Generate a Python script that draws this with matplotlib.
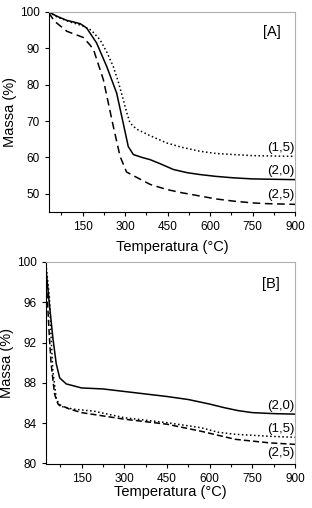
import numpy as np
import matplotlib.pyplot as plt
from matplotlib.ticker import MultipleLocator

plt.rcParams['font.family'] = ['Liberation Sans', 'DejaVu Sans']

# panel A
ta_15 = [30, 60, 100, 150, 180, 211, 235, 258, 275, 293, 305, 317, 340, 388, 446, 500, 564, 620, 682, 750, 820, 900]
ma_15 = [100, 98.6, 97.4, 96.2, 95.0, 92.4, 89.0, 85.0, 81.0, 76.0, 72.5, 69.5, 67.8, 66.0, 64.0, 62.8, 61.7, 61.1, 60.8, 60.5, 60.4, 60.3]
ta_20 = [30, 60, 94, 141, 164, 199, 235, 270, 293, 311, 329, 360, 388, 423, 470, 520, 564, 620, 682, 750, 820, 900]
ma_20 = [100, 98.8, 97.7, 96.8, 95.6, 91.5, 85.0, 77.7, 69.5, 63.0, 60.8, 60.0, 59.4, 58.3, 56.7, 55.8, 55.3, 54.8, 54.4, 54.1, 54.0, 53.9]
ta_25 = [30, 50, 94, 152, 175, 188, 223, 258, 282, 305, 329, 388, 446, 500, 564, 620, 682, 750, 800, 900]
ma_25 = [99.8, 97.5, 94.7, 93.0, 91.0, 89.7, 81.4, 68.6, 60.3, 56.0, 55.0, 52.6, 51.2, 50.3, 49.4, 48.6, 48.0, 47.5, 47.3, 47.1]

# panel B
tb_20 = [25, 37, 49, 61, 73, 96, 150, 225, 300, 375, 450, 525, 600, 650, 700, 750, 825, 900]
mb_20 = [99.3, 95.8, 92.5, 89.9, 88.5, 87.9, 87.5, 87.4, 87.15, 86.9, 86.65, 86.35, 85.9, 85.55, 85.25, 85.05, 84.95, 84.9]
tb_15 = [25, 37, 43, 49, 61, 73, 120, 192, 300, 450, 570, 630, 690, 810, 900]
mb_15 = [99.8, 96.5, 92.5, 89.2, 86.5, 85.7, 85.4, 85.2, 84.55, 84.05, 83.55, 83.1, 82.9, 82.7, 82.6]
tb_25 = [25, 37, 43, 55, 67, 108, 150, 300, 450, 570, 630, 690, 810, 900]
mb_25 = [98.8, 92.5, 89.9, 86.9, 85.9, 85.4, 85.05, 84.4, 83.9, 83.2, 82.8, 82.4, 82.05, 81.9]

fig = plt.figure(figsize=(3.12, 5.08), dpi=100)
axA = fig.add_axes([49/312, 1-212/508, 246/312, 200/508])
axB = fig.add_axes([46/312, 1-463.5/508, 249/312, 201.5/508])

def style(ax, pad):
    for s in ['top', 'right']:
        ax.spines[s].set_color('#b0b0b0')
    ax.spines['left'].set_linewidth(0.8)
    ax.spines['bottom'].set_linewidth(0.8)
    ax.xaxis.set_major_locator(MultipleLocator(150))
    ax.xaxis.set_minor_locator(MultipleLocator(75))
    ax.tick_params(direction='out', labelsize=8.5, length=3, width=0.8, top=False, right=False)
    ax.tick_params(which='minor', length=2, width=0.8)
    ax.set_xlabel('Temperatura (°C)', fontsize=10.5, labelpad=pad)
    ax.set_ylabel('Massa (%)', fontsize=10.5, labelpad=2)

axA.plot(ta_20, ma_20, 'k-', lw=1.1)
axA.plot(ta_15, ma_15, 'k:', lw=1.1)
axA.plot(ta_25, ma_25, 'k--', lw=1.1, dashes=(5, 3))
axA.set_xlim(31, 900)
axA.set_ylim(45, 100)
axA.yaxis.set_major_locator(MultipleLocator(10))
style(axA, 5)
axA.text(820, 94.5, '[A]', fontsize=10.5, ha='center', va='center')
axA.text(897, 62.7, '(1,5)', fontsize=9.5, ha='right', va='center')
axA.text(897, 56.2, '(2,0)', fontsize=9.5, ha='right', va='center')
axA.text(897, 49.8, '(2,5)', fontsize=9.5, ha='right', va='center')

axB.plot(tb_20, mb_20, 'k-', lw=1.1)
axB.plot(tb_15, mb_15, 'k:', lw=1.1)
axB.plot(tb_25, mb_25, 'k--', lw=1.1, dashes=(4, 2))
axB.set_xlim(25, 900)
axB.set_ylim(80, 100)
axB.yaxis.set_major_locator(MultipleLocator(4))
style(axB, 0)
axB.text(816, 97.8, '[B]', fontsize=10.5, ha='center', va='center')
axB.text(897, 85.7, '(2,0)', fontsize=9.5, ha='right', va='center')
axB.text(897, 83.4, '(1,5)', fontsize=9.5, ha='right', va='center')
axB.text(897, 81.0, '(2,5)', fontsize=9.5, ha='right', va='center')

fig.savefig('out.png', dpi=100)
